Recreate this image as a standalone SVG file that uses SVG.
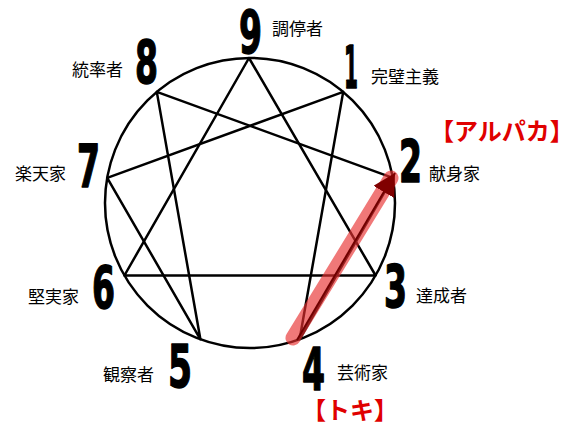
<svg xmlns="http://www.w3.org/2000/svg" width="573" height="434" viewBox="0 0 573 434">
<style>
.num{font-family:"DejaVu Sans","Liberation Sans",sans-serif;font-weight:bold;font-size:58px;fill:#000;stroke:#000;stroke-width:1.5;stroke-linejoin:round}
.lbl{font-family:"Noto Sans CJK JP","Noto Sans",sans-serif;font-size:17px;fill:#000}
.red{font-family:"Noto Sans CJK JP","Noto Sans",sans-serif;font-weight:bold;font-size:24px;fill:#e00000}
.ln{stroke:#000;stroke-width:2.5;fill:none;stroke-linejoin:round}
</style>
<defs>
<marker id="ah" markerUnits="userSpaceOnUse" markerWidth="24" markerHeight="24" refX="22" refY="12" orient="auto">
<path d="M0,0 L22,12 L0,24 z" fill="#800000"/>
</marker>
</defs>
<rect width="573" height="434" fill="#fff"/>
<g id="connectors">
<circle cx="250" cy="203" r="145" class="ln"/>
<polygon points="249,58 375.6,275.5 124.4,275.5" class="ln"/>
<polygon points="343.2,91.9 299.6,339.3 392.8,177.8 156.8,91.9 200.4,339.3 107.2,177.8" class="ln"/>
<line x1="293" y1="338" x2="391" y2="178" stroke="#e83030" stroke-opacity="0.65" stroke-width="15" stroke-linecap="round"/>
<line x1="297" y1="340" x2="395" y2="173" stroke="#700000" stroke-width="2" marker-end="url(#ah)"/>
</g>
<g id="n9"><text class="num" x="239" y="53" textLength="23" lengthAdjust="spacingAndGlyphs">9</text><text class="lbl" x="272" y="35">調停者</text></g>
<g id="n1"><text class="num" x="344" y="88" textLength="14" lengthAdjust="spacingAndGlyphs">1</text><text class="lbl" x="371" y="83">完璧主義</text></g>
<g id="n2"><text class="num" x="399" y="182" textLength="23" lengthAdjust="spacingAndGlyphs">2</text><text class="lbl" x="429" y="180">献身家</text><text class="red" x="430" y="140">【アルパカ】</text></g>
<g id="n3"><text class="num" x="384" y="307" textLength="23" lengthAdjust="spacingAndGlyphs">3</text><text class="lbl" x="416" y="302">達成者</text></g>
<g id="n4"><text class="num" x="302" y="390" textLength="23" lengthAdjust="spacingAndGlyphs">4</text><text class="lbl" x="337" y="379">芸術家</text><text class="red" x="302" y="419">【トキ】</text></g>
<g id="n5"><text class="num" x="168" y="387" textLength="24" lengthAdjust="spacingAndGlyphs">5</text><text class="lbl" x="103" y="381">観察者</text></g>
<g id="n6"><text class="num" x="92" y="308" textLength="23" lengthAdjust="spacingAndGlyphs">6</text><text class="lbl" x="28" y="303">堅実家</text></g>
<g id="n7"><text class="num" x="77" y="187" textLength="23" lengthAdjust="spacingAndGlyphs">7</text><text class="lbl" x="15" y="180">楽天家</text></g>
<g id="n8"><text class="num" x="135" y="83" textLength="23" lengthAdjust="spacingAndGlyphs">8</text><text class="lbl" x="72" y="76">統率者</text></g>
</svg>
